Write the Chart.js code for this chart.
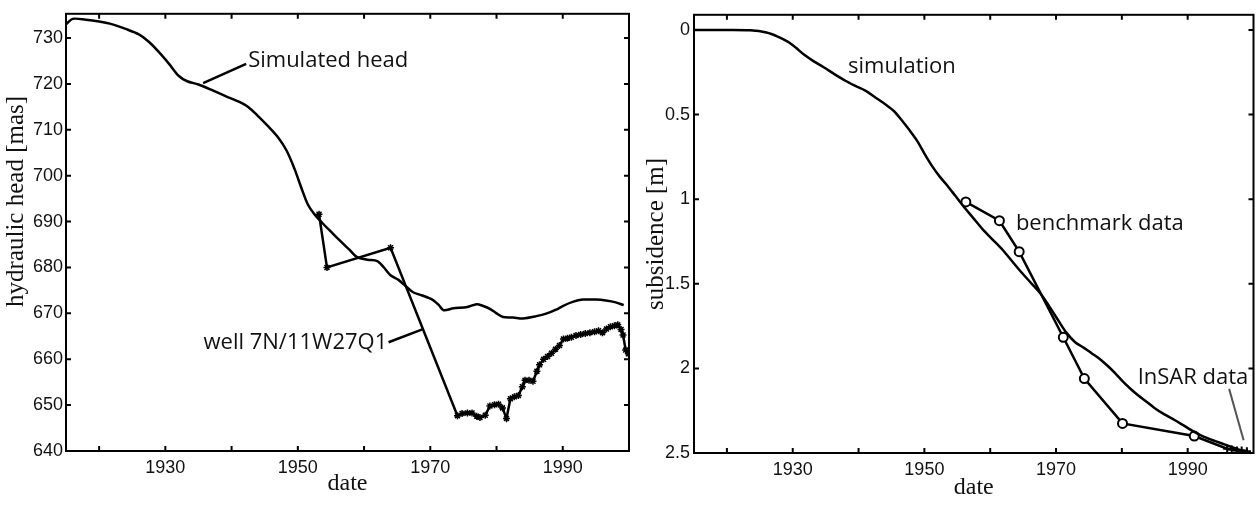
<!DOCTYPE html>
<html>
<head>
<meta charset="utf-8">
<script src="https://cdn.jsdelivr.net/npm/chart.js@4.4.0/dist/chart.umd.min.js"></script>
<style>
  html, body { margin: 0; padding: 0; background: #fff; }
  #wrap { position: relative; width: 1260px; height: 505px; overflow: hidden; }
  canvas { position: absolute; top: 0; }
  #headChart { left: 0; }
  #subChart { left: 640px; }
</style>
</head>
<body>
<div id="wrap">
  <canvas id="headChart" width="640" height="505"></canvas>
  <canvas id="subChart" width="620" height="505"></canvas>
</div>
<script>
// --- axis ticks ---
const yearTicks = [1920, 1930, 1940, 1950, 1960, 1970, 1980, 1990];
const yearLabels = [1930, 1950, 1970, 1990];
const headTicks = [640, 650, 660, 670, 680, 690, 700, 710, 720, 730];
const subTicks = [0, 0.5, 1, 1.5, 2, 2.5];

// --- left panel: simulated hydraulic head [mas] ---
const simHeadYears = [1915.0, 1916.0, 1918.0, 1920.0, 1922.0, 1924.0, 1926.0, 1927.5, 1929.0, 1930.5,
  1932.0, 1933.3, 1935.0, 1937.0, 1939.0, 1941.0, 1942.5, 1944.0, 1945.5, 1947.0,
  1948.3, 1949.5, 1950.5, 1951.5, 1952.5, 1953.7, 1955.0, 1956.4, 1957.7, 1959.0,
  1960.5, 1962.0, 1963.0, 1964.0, 1965.2, 1966.4, 1967.4, 1968.8, 1970.3, 1971.3,
  1972.0, 1973.5, 1975.6, 1977.0, 1978.0, 1979.0, 1980.0, 1981.0, 1982.5, 1984.0,
  1986.0, 1987.6, 1989.0, 1990.0, 1991.5, 1993.0, 1995.0, 1996.5, 1998.0, 1999.2];
const simHeadValues = [733.0, 734.2, 734.0, 733.6, 733.0, 732.0, 730.8, 729.2, 727.0, 724.5,
  721.8, 720.6, 719.9, 718.7, 717.4, 716.2, 715.0, 713.0, 710.8, 708.4,
  705.5, 701.5, 697.5, 693.8, 691.6, 689.7, 687.8, 685.8, 684.0, 682.2,
  681.7, 681.4, 680.0, 678.3, 677.3, 675.8, 674.6, 673.9, 673.0, 671.8,
  670.7, 671.1, 671.4, 672.0, 671.6, 671.0, 670.0, 669.2, 669.1, 668.9,
  669.4, 670.0, 670.8, 671.6, 672.5, 673.0, 673.0, 672.8, 672.4, 671.8];

// --- left panel: well 7N/11W27Q1 observations ---
const wellYears = [1953.2, 1954.4, 1964.0, 1974.1, 1974.8, 1975.6, 1976.3, 1977.0, 1977.5, 1978.3,
  1979.0, 1979.7, 1980.3, 1980.9, 1981.5, 1982.1, 1982.7, 1983.3, 1983.9, 1984.3,
  1984.9, 1985.5, 1986.1, 1986.5, 1987.1, 1987.7, 1988.3, 1988.9, 1989.5, 1990.1,
  1990.7, 1991.3, 1992.0, 1992.7, 1993.4, 1994.1, 1994.8, 1995.4, 1996.0, 1996.6,
  1997.2, 1997.8, 1998.3, 1998.8, 1999.1, 1999.5, 1999.9];
const wellValues = [691.6, 680.0, 684.3, 647.7, 648.2, 648.3, 648.3, 647.6, 647.3, 647.8,
  649.8, 650.1, 650.2, 649.4, 647.1, 651.4, 651.8, 652.1, 654.0, 655.4,
  655.4, 655.2, 657.4, 658.8, 660.0, 660.6, 661.3, 662.2, 663.0, 664.4,
  664.6, 664.8, 665.2, 665.4, 665.6, 665.8, 666.0, 666.2, 665.8, 666.6,
  667.1, 667.3, 667.5, 666.5, 665.3, 662.0, 661.2];

// --- right panel: simulated subsidence [m] ---
const simSubYears = [1915.0, 1920.0, 1923.5, 1926.0, 1927.8, 1929.3, 1930.5, 1931.7, 1933.2, 1934.7,
  1936.3, 1938.0, 1939.5, 1941.1, 1942.6, 1944.1, 1945.4, 1946.5, 1947.7, 1948.9,
  1950.0, 1951.1, 1952.3, 1953.5, 1954.7, 1955.9, 1957.4, 1958.9, 1960.4, 1961.9,
  1963.3, 1964.7, 1966.2, 1967.7, 1969.0, 1970.4, 1971.6, 1972.9, 1974.3, 1975.4,
  1976.5, 1977.7, 1978.9, 1980.1, 1981.3, 1982.5, 1983.7, 1985.0, 1986.4, 1988.0,
  1989.5, 1991.0, 1992.5, 1994.2, 1996.0, 1997.8, 1999.5];
const simSubValues = [0.0, 0.0, 0.002, 0.015, 0.04, 0.07, 0.105, 0.145, 0.185, 0.22,
  0.26, 0.30, 0.33, 0.36, 0.40, 0.44, 0.48, 0.53, 0.59, 0.655,
  0.73, 0.80, 0.865, 0.92, 0.98, 1.04, 1.11, 1.18, 1.24, 1.30,
  1.365, 1.43, 1.495, 1.56, 1.635, 1.72, 1.79, 1.845, 1.88, 1.91,
  1.94, 1.98, 2.025, 2.075, 2.12, 2.16, 2.195, 2.235, 2.27, 2.305,
  2.34, 2.375, 2.405, 2.43, 2.455, 2.48, 2.50];

// --- right panel: benchmark and InSAR observations ---
const benchYears = [1956.3, 1961.4, 1964.4, 1971.1, 1974.3, 1980.1, 1991.0];
const benchValues = [1.016, 1.127, 1.31, 1.816, 2.06, 2.325, 2.40];
const insarYears = [1996.0, 1996.7, 1997.5, 1998.2, 1999.0];
const insarValues = [2.475, 2.48, 2.485, 2.485, 2.49];

const INK = '#000';
const TICK_LEN = 5;

const toPoints = (xs, ys) => xs.map((x, i) => ({ x, y: ys[i] }));

// box round the plot with inward ticks on all four sides (MATLAB style)
const frameTicks = {
  id: 'frameTicks',
  afterDatasetsDraw(chart) {
    const { ctx, chartArea: a, scales: { x, y } } = chart;
    ctx.save();
    ctx.strokeStyle = INK;
    ctx.lineWidth = 2;
    ctx.beginPath();
    x.ticks.forEach(t => {
      const px = x.getPixelForValue(t.value);
      ctx.moveTo(px, a.bottom); ctx.lineTo(px, a.bottom - TICK_LEN);
      ctx.moveTo(px, a.top); ctx.lineTo(px, a.top + TICK_LEN);
    });
    y.ticks.forEach(t => {
      const py = y.getPixelForValue(t.value);
      ctx.moveTo(a.left, py); ctx.lineTo(a.left + TICK_LEN, py);
      ctx.moveTo(a.right, py); ctx.lineTo(a.right - TICK_LEN, py);
    });
    ctx.stroke();
    ctx.strokeRect(a.left, a.top, a.right - a.left, a.bottom - a.top);
    ctx.restore();
  }
};

// text labels with leader lines, placed in data coordinates
const callouts = {
  id: 'callouts',
  afterDraw(chart, args, opts) {
    const { ctx, scales: { x, y } } = chart;
    ctx.save();
    (opts.leaders || []).forEach(l => {
      ctx.strokeStyle = l.color || INK;
      ctx.lineWidth = l.width || 2.5;
      ctx.beginPath();
      ctx.moveTo(x.getPixelForValue(l.x1), y.getPixelForValue(l.y1));
      ctx.lineTo(x.getPixelForValue(l.x2), y.getPixelForValue(l.y2));
      ctx.stroke();
    });
    ctx.fillStyle = '#111';
    ctx.textBaseline = 'alphabetic';
    (opts.labels || []).forEach(t => {
      ctx.save();
      ctx.font = t.font || '22px "Open Sans", sans-serif';
      ctx.textAlign = t.align || 'left';
      ctx.translate(x.getPixelForValue(t.x), y.getPixelForValue(t.y));
      if (t.vertical) ctx.rotate(-Math.PI / 2);
      ctx.fillText(t.text, 0, 0);
      ctx.restore();
    });
    ctx.restore();
  }
};

const SERIF = '"Liberation Serif", "Times New Roman", serif';

function buildOptions(cfg) {
  return {
    responsive: false,
    animation: false,
    layout: { padding: cfg.padding },
    plugins: {
      legend: { display: false },
      tooltip: { enabled: false },
      callouts: cfg.callouts
    },
    scales: {
      x: {
        type: 'linear',
        min: 1915,
        max: 2000,
        afterBuildTicks: s => { s.ticks = yearTicks.map(v => ({ value: v })); },
        afterFit: s => { s.height = cfg.xHeight; },
        grid: { display: false, drawTicks: false },
        border: { display: false },
        ticks: {
          autoSkip: false,
          maxRotation: 0,
          padding: 6,
          color: '#111',
          font: { family: '"Liberation Sans", Arial, sans-serif', size: 18 },
          callback: v => (yearLabels.includes(v) ? String(v) : '')
        },
        title: {
          display: true,
          text: 'date',
          color: '#111',
          padding: { top: 0, bottom: cfg.xTitlePad },
          font: { family: SERIF, size: 24 }
        }
      },
      y: {
        type: 'linear',
        min: cfg.yMin,
        max: cfg.yMax,
        reverse: cfg.reverse,
        afterBuildTicks: s => { s.ticks = cfg.yTicks.map(v => ({ value: v })); },
        afterFit: s => { s.width = cfg.yWidth; },
        grid: { display: false, drawTicks: false },
        border: { display: false },
        ticks: {
          autoSkip: false,
          padding: cfg.yTickPad,
          color: '#111',
          font: { family: '"Liberation Sans", Arial, sans-serif', size: 18 },
          callback: v => String(v)
        },
        title: {
          display: !!cfg.yTitle,
          text: cfg.yTitle || '',
          color: '#111',
          padding: { top: cfg.yTitlePad, bottom: 0 },
          font: { family: SERIF, size: 25 }
        }
      }
    }
  };
}

// left panel
new Chart(document.getElementById('headChart'), {
  type: 'scatter',
  data: {
    datasets: [
      {
        label: 'Simulated head',
        data: toPoints(simHeadYears, simHeadValues),
        showLine: true,
        borderColor: INK,
        borderWidth: 2.5,
        tension: 0.3,
        pointRadius: 0
      },
      {
        label: 'well 7N/11W27Q1',
        data: toPoints(wellYears, wellValues),
        showLine: true,
        borderColor: INK,
        borderWidth: 2.5,
        tension: 0,
        pointStyle: 'star',
        pointRadius: 3.5,
        pointBorderWidth: 1.5,
        pointBorderColor: INK,
        pointBackgroundColor: INK
      }
    ]
  },
  options: buildOptions({
    padding: { top: 7, right: 11, left: 0, bottom: 0 },
    xHeight: 54,
    yWidth: 66,
    yMin: 640,
    yMax: 735.3,
    reverse: false,
    yTicks: headTicks,
    yTickPad: 3,
    yTitle: null, // drawn by callouts, it sits above the axis centre in the original
    xTitlePad: 7,
    callouts: {
      leaders: [
        { x1: 1935.7, y1: 720.2, x2: 1942.2, y2: 724.4 },
        { x1: 1963.7, y1: 663.7, x2: 1968.8, y2: 666.5 }
      ],
      labels: [
        { text: 'Simulated head', x: 1942.5, y: 723.6 },
        { text: 'well 7N/11W27Q1', x: 1963.5, y: 662.2, align: 'right' },
        { text: 'hydraulic head [mas]', x: 1908.5, y: 694.4, align: 'center',
          vertical: true, font: '25px ' + SERIF }
      ]
    }
  }),
  plugins: [frameTicks, callouts]
});

// right panel
const obsPoints = toPoints(benchYears, benchValues).concat(toPoints(insarYears, insarValues));
const obsStyles = benchYears.map(() => 'circle').concat(insarYears.map(() => 'cross'));

new Chart(document.getElementById('subChart'), {
  type: 'scatter',
  data: {
    datasets: [
      {
        label: 'simulation',
        data: toPoints(simSubYears, simSubValues),
        showLine: true,
        borderColor: INK,
        borderWidth: 2.5,
        tension: 0.3,
        pointRadius: 0
      },
      {
        label: 'benchmark / InSAR data',
        data: obsPoints,
        showLine: true,
        borderColor: INK,
        borderWidth: 2.5,
        tension: 0,
        pointStyle: obsStyles,
        pointRadius: obsStyles.map(s => (s === 'circle' ? 4.5 : 4)),
        pointBorderWidth: 2,
        pointBorderColor: INK,
        pointBackgroundColor: '#fff'
      }
    ]
  },
  options: buildOptions({
    padding: { top: 9, right: 3, left: 0, bottom: 0 },
    xHeight: 52,
    yWidth: 54,
    yMin: -0.09,
    yMax: 2.5,
    reverse: true,
    yTicks: subTicks,
    yTickPad: 4,
    yTitle: 'subsidence [m]',
    yTitlePad: 1,
    xTitlePad: 3,
    callouts: {
      leaders: [
        { x1: 1996.3, y1: 2.121, x2: 1998.5, y2: 2.425, color: '#555', width: 2 }
      ],
      labels: [
        { text: 'simulation', x: 1938.4, y: 0.254 },
        { text: 'benchmark data', x: 1963.9, y: 1.18 },
        { text: 'InSAR data', x: 1982.4, y: 2.09 }
      ]
    }
  }),
  plugins: [frameTicks, callouts]
});
</script>
</body>
</html>
